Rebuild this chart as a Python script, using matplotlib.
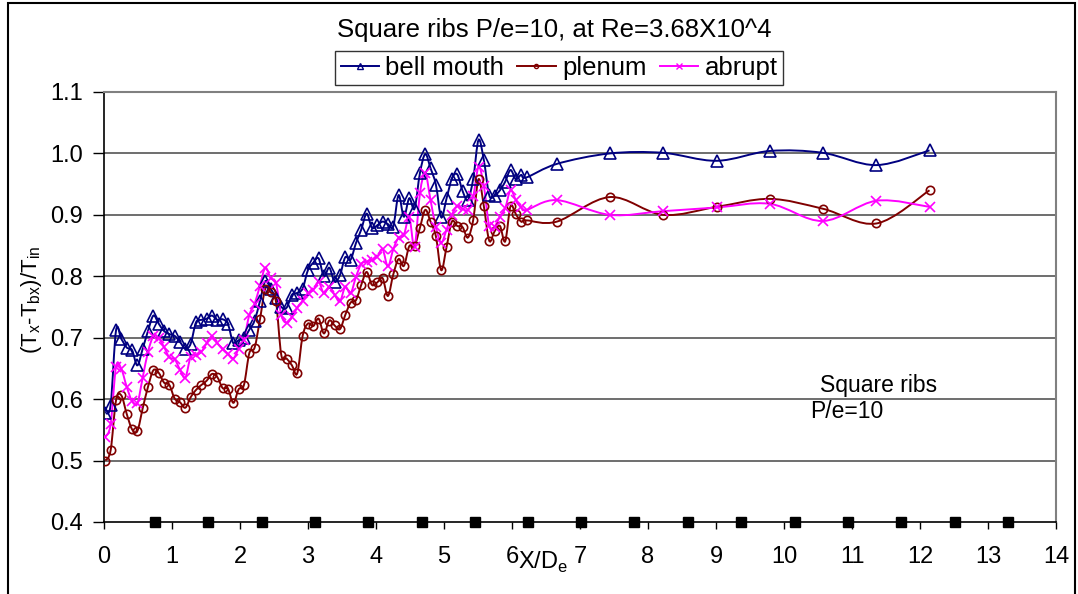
import numpy as np
import matplotlib
matplotlib.use("Agg")
import matplotlib.pyplot as plt
from matplotlib.path import Path
from matplotlib.patches import PathPatch, Rectangle
from matplotlib.lines import Line2D
from matplotlib.ticker import MultipleLocator, FormatStrFormatter

plt.rcParams["font.family"] = ["Liberation Sans", "DejaVu Sans"]

# thermocouple stations along the ribbed section (X/De)
x_dense = [0.02, 0.098, 0.177, 0.255, 0.334, 0.412, 0.49, 0.569, 0.647, 0.726,
           0.804, 0.882, 0.961, 1.039, 1.118, 1.196, 1.274, 1.353, 1.431, 1.51,
           1.588, 1.666, 1.745, 1.823, 1.902, 1.98, 2.058, 2.137, 2.215, 2.294,
           2.372, 2.45, 2.529, 2.607, 2.686, 2.764, 2.842, 2.921, 2.999, 3.078,
           3.156, 3.234, 3.313, 3.391, 3.47, 3.548, 3.626, 3.705, 3.783, 3.862,
           3.94, 4.018, 4.097, 4.175, 4.254, 4.332, 4.41, 4.489, 4.567, 4.646,
           4.724, 4.802, 4.881, 4.959, 5.038, 5.116, 5.194, 5.273, 5.351, 5.43,
           5.508, 5.586, 5.665, 5.743, 5.822, 5.9, 5.978, 6.057, 6.135, 6.214]
x_tail = [6.66, 7.44, 8.22, 9.01, 9.79, 10.57, 11.36, 12.14]

bell_dense = [0.577, 0.591, 0.712, 0.698, 0.684, 0.680, 0.655, 0.682, 0.711, 0.736,
              0.723, 0.711, 0.706, 0.703, 0.693, 0.682, 0.690, 0.725, 0.729, 0.731,
              0.736, 0.729, 0.730, 0.722, 0.691, 0.696, 0.699, 0.713, 0.728, 0.760,
              0.792, 0.780, 0.765, 0.750, 0.749, 0.770, 0.773, 0.780, 0.810, 0.822,
              0.829, 0.800, 0.814, 0.791, 0.802, 0.831, 0.827, 0.854, 0.876, 0.902,
              0.879, 0.883, 0.889, 0.885, 0.881, 0.932, 0.897, 0.927, 0.910, 0.968,
              0.999, 0.976, 0.949, 0.896, 0.927, 0.959, 0.966, 0.939, 0.924, 0.959,
              1.022, 0.989, 0.932, 0.931, 0.940, 0.954, 0.973, 0.958, 0.965, 0.961]
bell_tail = [0.983, 1.000, 1.001, 0.988, 1.004, 1.001, 0.981, 1.005]

plenum_dense = [0.500, 0.517, 0.598, 0.606, 0.576, 0.551, 0.548, 0.585, 0.620, 0.647,
                0.643, 0.627, 0.623, 0.601, 0.595, 0.586, 0.603, 0.615, 0.623, 0.630,
                0.641, 0.636, 0.618, 0.617, 0.594, 0.616, 0.623, 0.675, 0.684, 0.730,
                0.780, 0.774, 0.759, 0.672, 0.666, 0.655, 0.642, 0.703, 0.723, 0.719,
                0.731, 0.707, 0.728, 0.720, 0.714, 0.737, 0.757, 0.761, 0.786, 0.807,
                0.786, 0.790, 0.797, 0.768, 0.803, 0.828, 0.817, 0.849, 0.849, 0.879,
                0.908, 0.889, 0.865, 0.810, 0.848, 0.889, 0.882, 0.880, 0.863, 0.892,
                0.958, 0.914, 0.858, 0.873, 0.882, 0.857, 0.914, 0.901, 0.889, 0.891]
plenum_tail = [0.889, 0.929, 0.900, 0.913, 0.926, 0.910, 0.886, 0.940]

abrupt_dense = [0.539, 0.559, 0.653, 0.649, 0.620, 0.597, 0.593, 0.635, 0.677, 0.702,
                0.699, 0.685, 0.668, 0.665, 0.648, 0.635, 0.669, 0.672, 0.677, 0.691,
                0.702, 0.691, 0.681, 0.673, 0.666, 0.682, 0.697, 0.737, 0.755, 0.785,
                0.814, 0.797, 0.789, 0.737, 0.724, 0.734, 0.749, 0.760, 0.772, 0.778,
                0.791, 0.772, 0.783, 0.770, 0.759, 0.783, 0.772, 0.799, 0.820, 0.824,
                0.827, 0.832, 0.844, 0.816, 0.844, 0.863, 0.867, 0.896, 0.848, 0.935,
                0.968, 0.924, 0.880, 0.855, 0.876, 0.900, 0.914, 0.910, 0.908, 0.930,
                0.978, 0.947, 0.882, 0.881, 0.897, 0.911, 0.940, 0.924, 0.912, 0.908]
abrupt_tail = [0.924, 0.900, 0.906, 0.912, 0.918, 0.890, 0.923, 0.913]

# rib locations drawn on the bottom axis
rib_x = [0.75, 1.53, 2.32, 3.10, 3.88, 4.67, 5.45, 6.24, 7.02, 7.80,
         8.59, 9.37, 10.16, 10.94, 11.72, 12.51, 13.29]
rib_y = 0.4


def smooth_path(xs, ys):
    # cubic bezier through the points (catmull-rom style tangents)
    p = np.column_stack([xs, ys])
    n = len(p)
    verts = [p[0]]
    codes = [Path.MOVETO]
    for i in range(n - 1):
        p0 = p[i - 1] if i > 0 else p[i]
        p1 = p[i]
        p2 = p[i + 1]
        p3 = p[i + 2] if i + 2 < n else p[i + 1]
        c1 = p1 + (p2 - p0) / 6.0
        c2 = p2 - (p3 - p1) / 6.0
        verts += [c1, c2, p2]
        codes += [Path.CURVE4] * 3
    return Path(verts, codes)


series = [
    ("bell mouth", bell_dense + bell_tail, "#000080", "^", 8),
    ("plenum", plenum_dense + plenum_tail, "#800000", "o", 6),
    ("abrupt", abrupt_dense + abrupt_tail, "#FF00FF", "x", 7.5),
]
xs = x_dense + x_tail

fig = plt.figure(figsize=(10.78, 5.94), dpi=100)
ax = fig.add_axes([104 / 1078, 1 - 522 / 594, (1056 - 104) / 1078, (522 - 92) / 594])

for y in [0.5, 0.6, 0.7, 0.8, 0.9, 1.0]:
    ax.axhline(y, color="#555555", lw=1.2, zorder=1)

handles = []
for label, ys, color, marker, ms in series:
    ax.add_patch(PathPatch(smooth_path(xs, ys), fill=False, edgecolor=color,
                           lw=1.4, zorder=3))
    ax.plot(xs, ys, linestyle="none", marker=marker, ms=ms, mfc="none",
            mec=color, mew=1.2, zorder=4)
    handles.append(Line2D([], [], color=color, lw=1.4, marker=marker,
                          ms=ms - 3, mfc="none", mec=color, mew=1.0))

ax.plot(rib_x, [rib_y] * len(rib_x), linestyle="none", marker="s", ms=7,
        color="black", clip_on=False, zorder=5)

ax.set_xlim(0, 14)
ax.set_ylim(0.4, 1.1)
ax.xaxis.set_major_locator(MultipleLocator(1))
ax.yaxis.set_major_locator(MultipleLocator(0.1))
ax.yaxis.set_major_formatter(FormatStrFormatter("%.1f"))
ax.tick_params(axis="y", direction="out", length=8, width=1, labelsize=17, pad=7)
ax.tick_params(axis="x", direction="out", length=5, width=1, labelsize=17, pad=12)

for side in ["left", "bottom"]:
    ax.spines[side].set_color("black")
    ax.spines[side].set_linewidth(1.2)
for side in ["top", "right"]:
    ax.spines[side].set_color("#808080")
    ax.spines[side].set_linewidth(1.5)

ax.text(10.53, 0.623, "Square ribs", fontsize=16.5, va="center", ha="left")
ax.text(10.38, 0.580, "P/e=10", fontsize=16.5, va="center", ha="left")

ax.text(6.45, -0.095, r"X/D$_\mathregular{e}$", transform=ax.get_xaxis_transform(),
        fontsize=17, ha="center", va="center")
fig.text(31 / 1078, 0.495, r"(T$_\mathregular{x}$-T$_\mathregular{bx}$)/T$_\mathregular{in}$",
         rotation=90, fontsize=16, ha="center", va="center")

fig.text(554 / 1078, 1 - 30 / 594, "Square ribs P/e=10, at Re=3.68X10^4",
         fontsize=18.5, ha="center", va="center")

leg = fig.legend(handles, [s[0] for s in series], loc="center",
                 bbox_to_anchor=(559 / 1078, 1 - 68 / 594), ncol=3,
                 fontsize=18.5, frameon=True, fancybox=False, handlelength=1.5,
                 handletextpad=0.25, columnspacing=0.5, borderpad=0.2)
leg.get_frame().set_edgecolor("black")
leg.get_frame().set_linewidth(1.0)

fig.patches.append(Rectangle((8 / 1078, -0.01), (1075 - 8) / 1078, 1.0 - 3 / 594 + 0.01,
                             transform=fig.transFigure, fill=False,
                             edgecolor="black", lw=1.5))

fig.savefig("out.png", dpi=100)
